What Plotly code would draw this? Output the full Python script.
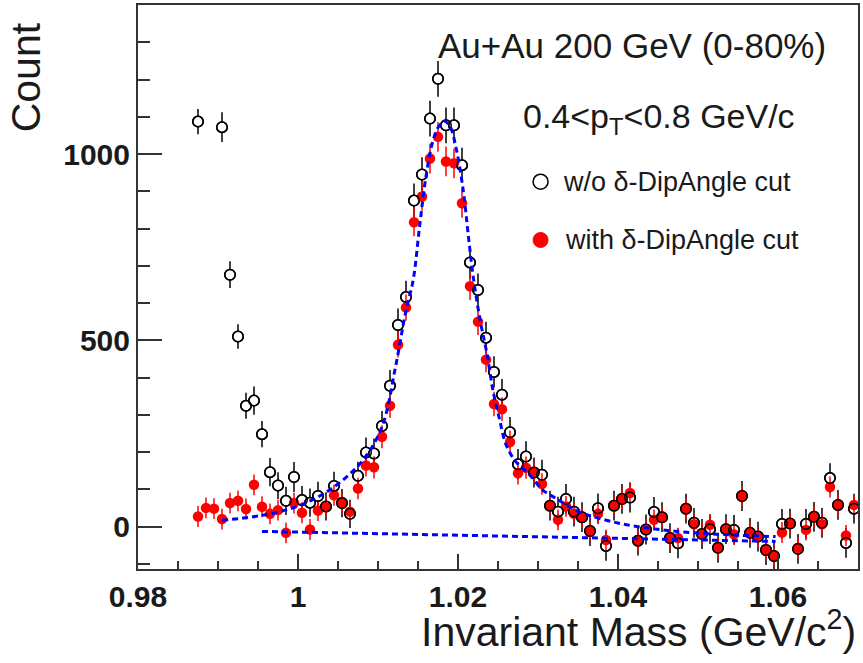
import plotly.graph_objects as go

# ---------------- data ----------------
mass = [0.9875, 0.9885, 0.9895, 0.9905, 0.9915, 0.9925, 0.9935, 0.9945, 0.9955, 0.9965,
        0.9975, 0.9985, 0.9995, 1.0005, 1.0015, 1.0025, 1.0035, 1.0045, 1.0055, 1.0065,
        1.0075, 1.0085, 1.0095, 1.0105, 1.0115, 1.0125, 1.0135, 1.0145, 1.0155, 1.0165,
        1.0175, 1.0185, 1.0195, 1.0205, 1.0215, 1.0225, 1.0235, 1.0245, 1.0255, 1.0265,
        1.0275, 1.0285, 1.0295, 1.0305, 1.0315, 1.0325, 1.0335, 1.0345, 1.0355, 1.0365,
        1.0375, 1.0385, 1.0395, 1.0405, 1.0415, 1.0425, 1.0435, 1.0445, 1.0455, 1.0465,
        1.0475, 1.0485, 1.0495, 1.0505, 1.0515, 1.0525, 1.0535, 1.0545, 1.0555, 1.0565,
        1.0575, 1.0585, 1.0595, 1.0605, 1.0615, 1.0625, 1.0635, 1.0645, 1.0655, 1.0665,
        1.0675, 1.0685, 1.0695]

count_no_cut = [1087, None, None, 1072, 676, 510, 324, 338, 248, 146,
                110, 69, 133, 71, 64, 82, 54, 109, 63, 34,
                136, 199, 196, 270, 378, 541, 616, 875, 945, 1095,
                1202, 1077, 1077, 970, 709, 635, 507, 415, 354, 253,
                167, 188, 145, 139, 56, 40, 74, 40, 25, -12,
                49, -52, 56, 74, 78, -38, -8, 39, 25, -31,
                -45, 48, 10, -20, -7, -57, -7, -9, 82, -17,
                -27, -63, -79, 7, 8, -60, 7, 26, 10, 130,
                58, -44, 48]

err_no_cut = [34, 0, 0, 40, 36, 33, 35, 38, 35, 38,
              36, 38, 40, 38, 38, 38, 38, 38, 38, 38,
              38, 40, 40, 40, 42, 44, 44, 46, 46, 48,
              48, 48, 48, 47, 45, 44, 43, 42, 42, 41,
              41, 41, 40, 40, 40, 40, 40, 40, 40, 40,
              40, 40, 40, 40, 40, 40, 40, 40, 40, 40,
              40, 40, 40, 40, 40, 40, 40, 40, 40, 40,
              40, 40, 40, 40, 40, 40, 40, 40, 40, 40,
              40, 40, 40]

count_cut = [27, 50, 48, 20, 63, 69, 47, 112, 53, 34,
             44, -17, 63, 37, -8, 43, 52, 84, 63, 40,
             102, 164, 159, 241, 324, 488, 588, 817, 886, 988,
             1046, 980, 975, 868, 645, 550, 448, 329, 315, 227,
             143, 158, 145, 114, 56, 18, 54, 34, 25, -13,
             34, -36, 56, 74, 90, -38, -8, 18, 25, -31,
             -31, 48, 6, -20, 5, -57, -7, -21, 82, -17,
             -28, -63, -79, -16, 8, -57, -9, 26, 6, 106,
             58, -24, 58]

err_cut = [28, 28, 28, 28, 28, 28, 28, 28, 28, 28,
           28, 28, 28, 28, 28, 28, 28, 28, 28, 28,
           29, 30, 30, 31, 32, 34, 35, 38, 38, 40,
           40, 40, 40, 39, 37, 36, 34, 33, 32, 31,
           30, 30, 29, 29, 28, 28, 28, 28, 28, 28,
           28, 28, 28, 28, 28, 28, 28, 28, 28, 28,
           28, 28, 28, 28, 28, 28, 28, 28, 28, 28,
           28, 28, 28, 28, 28, 28, 28, 28, 28, 28,
           28, 28, 28]

# fit curve (signal + residual background)
fit_mass = [0.9905, 0.9955, 1.0000, 1.0040, 1.0080, 1.0105, 1.0122, 1.0135, 1.0144,
            1.0152, 1.0160, 1.0168, 1.0176, 1.0183, 1.0190, 1.0198, 1.0207, 1.0213,
            1.0219, 1.0228, 1.0236, 1.0244, 1.0252, 1.0260, 1.0272, 1.0289, 1.0306,
            1.0322, 1.0351, 1.0401, 1.0455, 1.0517, 1.0597]
fit_val = [17, 30, 55, 99, 175, 268, 430, 580, 662,
           806, 940, 1030, 1074, 1088, 1074, 1012, 895, 779,
           671, 550, 466, 362, 287, 220, 175, 140, 98,
           76, 40, 9, -9, -20, -27]

# residual background line
bkg_mass = [0.9955, 1.0597]
bkg_val = [-13, -40]

FONT = "Liberation Sans, Arial, Helvetica, sans-serif"
TXT = "#1a1a1a"
AX = "#333333"

fig = go.Figure()

# open circles (white-filled, with black error bars)
fig.add_trace(go.Scatter(
    x=mass, y=count_no_cut, mode="markers", name="w/o δ-DipAngle cut",
    marker=dict(symbol="circle", size=10.5, color="white",
                line=dict(color="black", width=1.5)),
    error_y=dict(type="data", array=err_no_cut, visible=True,
                 color="black", thickness=1.5, width=0),
    showlegend=False))

# red filled circles
fig.add_trace(go.Scatter(
    x=mass, y=count_cut, mode="markers", name="with δ-DipAngle cut",
    marker=dict(symbol="circle", size=10.5, color="#ff0000",
                line=dict(color="#ff0000", width=0)),
    error_y=dict(type="data", array=err_cut, visible=True,
                 color="#ff0000", thickness=1.5, width=0),
    showlegend=False))

# hollow rings drawn on top so overlaps show red inside black ring
fig.add_trace(go.Scatter(
    x=mass, y=count_no_cut, mode="markers", hoverinfo="skip",
    marker=dict(symbol="circle-open", size=10.5,
                line=dict(color="black", width=1.5), color="black"),
    showlegend=False))

# fit curve and background
fig.add_trace(go.Scatter(
    x=fit_mass, y=fit_val, mode="lines", line_shape="spline",
    line=dict(color="#0000ff", width=3, dash="6px,4px"),
    showlegend=False, hoverinfo="skip"))
fig.add_trace(go.Scatter(
    x=bkg_mass, y=bkg_val, mode="lines",
    line=dict(color="#0000ff", width=3, dash="6px,4px"),
    showlegend=False, hoverinfo="skip"))

L, R, T, B = 138, 3, 5, 94
W, H = 863, 663
PW, PH = W - L - R, H - T - B


def px(x):
    return (x - L) / PW


def py(y):
    return (H - B - y) / PH


annotations = [
    dict(text="Au+Au 200 GeV (0-80%)", x=px(633.5), y=py(46), xanchor="center",
         yanchor="middle", font=dict(size=35, color=TXT, family=FONT)),
    dict(text="0.4&lt;p<sub>T</sub>&lt;0.8 GeV/c", x=px(660), y=py(118),
         xanchor="center", yanchor="middle",
         font=dict(size=34, color=TXT, family=FONT)),
    dict(text="w/o δ-DipAngle cut", x=px(562), y=py(182), xanchor="left",
         yanchor="middle", font=dict(size=27, color=TXT, family=FONT)),
    dict(text="with δ-DipAngle cut", x=px(564), y=py(240), xanchor="left",
         yanchor="middle", font=dict(size=27, color=TXT, family=FONT)),
    dict(text="Count", x=px(26), y=py(20), xanchor="center", yanchor="top",
         textangle=-90, font=dict(size=41, color=TXT, family=FONT)),
    dict(text="Invariant Mass (GeV/c<sup>2</sup>)", x=px(860), y=py(629),
         xanchor="right", yanchor="middle",
         font=dict(size=41, color=TXT, family=FONT)),
]
for a in annotations:
    a.update(xref="paper", yref="paper", showarrow=False)

shapes = [
    dict(type="circle", xref="paper", yref="paper", xsizemode="pixel", ysizemode="pixel",
         xanchor=px(541.7), yanchor=py(181.7), x0=-7.5, x1=7.5, y0=-7.5, y1=7.5,
         line=dict(color="black", width=1.5), fillcolor="white"),
    dict(type="circle", xref="paper", yref="paper", xsizemode="pixel", ysizemode="pixel",
         xanchor=px(541.7), yanchor=py(240), x0=-7.5, x1=7.5, y0=-7.5, y1=7.5,
         line=dict(color="#ff0000", width=1), fillcolor="#ff0000"),
]

fig.update_layout(
    width=W, height=H,
    margin=dict(l=L, r=R, t=T, b=B),
    paper_bgcolor="white", plot_bgcolor="white",
    font=dict(family=FONT, color=TXT),
    annotations=annotations, shapes=shapes,
    showlegend=False,
    xaxis=dict(range=[0.98, 1.07], tick0=0.98, dtick=0.02, ticks="inside",
               ticklen=15, tickwidth=1.5, tickcolor=AX,
               minor=dict(ticks="inside", dtick=0.005, tick0=0.98, ticklen=8,
                          tickwidth=1.5, tickcolor=AX),
               showline=True, mirror=True, linecolor=AX, linewidth=2,
               showgrid=False, zeroline=False, ticklabelstandoff=0,
               tickfont=dict(size=30, family=FONT, color=TXT, weight="bold")),
    yaxis=dict(range=[-114, 1400], tick0=0, dtick=500, ticks="inside",
               ticklen=24, tickwidth=1.5, tickcolor=AX,
               minor=dict(ticks="inside", dtick=100, tick0=0, ticklen=12,
                          tickwidth=1.5, tickcolor=AX),
               showline=True, mirror=True, linecolor=AX, linewidth=2,
               showgrid=False, zeroline=False,
               tickfont=dict(size=30, family=FONT, color=TXT, weight="bold")),
)

fig.write_html("out.html")
